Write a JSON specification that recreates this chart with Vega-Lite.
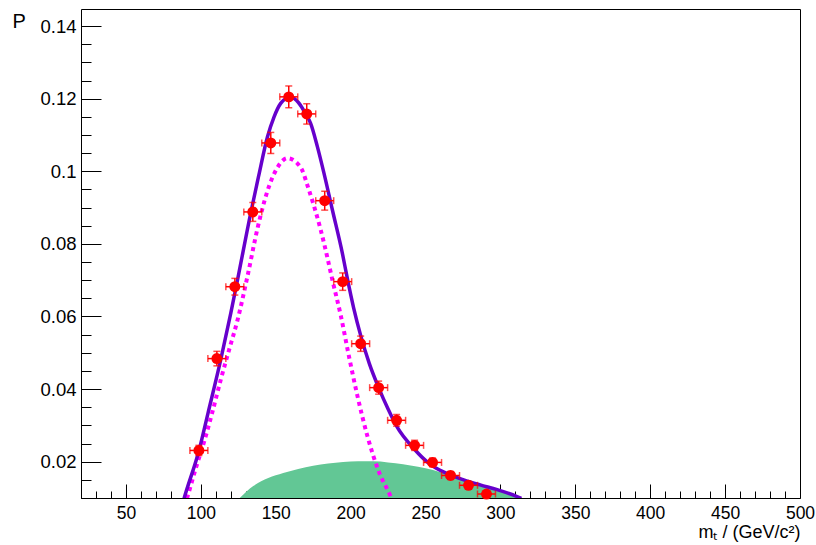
{
  "$schema": "https://vega.github.io/schema/vega-lite/v6.json",
  "width": 719,
  "height": 489,
  "autosize": {"type": "none"},
  "padding": {"left": 81, "top": 9, "right": 16, "bottom": 47},
  "background": "white",
  "config": {
    "view": {"stroke": "black", "strokeWidth": 1},
    "font": "Liberation Sans"
  },
  "datasets": {
    "green": [
      {"x": 126, "y": 0.0100}, {"x": 135, "y": 0.0133}, {"x": 145, "y": 0.0155},
      {"x": 155, "y": 0.0169}, {"x": 165, "y": 0.0180}, {"x": 175, "y": 0.0189},
      {"x": 185, "y": 0.0195}, {"x": 195, "y": 0.0199}, {"x": 205, "y": 0.0201},
      {"x": 215, "y": 0.0201}, {"x": 225, "y": 0.0198}, {"x": 235, "y": 0.0193},
      {"x": 245, "y": 0.0186}, {"x": 255, "y": 0.0177}, {"x": 265, "y": 0.0164},
      {"x": 275, "y": 0.0150}, {"x": 285, "y": 0.0137}, {"x": 295, "y": 0.0125},
      {"x": 305, "y": 0.0112}, {"x": 311, "y": 0.0102}, {"x": 314, "y": 0.0100}
    ],
    "sig": [
      {"x": 89.0, "y": 0.0078}, {"x": 91.1, "y": 0.0104}, {"x": 96.5, "y": 0.0180},
      {"x": 102.2, "y": 0.0255}, {"x": 107.8, "y": 0.0338}, {"x": 113.3, "y": 0.0426},
      {"x": 119.0, "y": 0.0510}, {"x": 124.5, "y": 0.0590}, {"x": 131.1, "y": 0.0710},
      {"x": 137.8, "y": 0.0842}, {"x": 144.5, "y": 0.0946}, {"x": 151.1, "y": 0.1010},
      {"x": 157.8, "y": 0.1036}, {"x": 164.4, "y": 0.1022}, {"x": 167.8, "y": 0.1002},
      {"x": 171.1, "y": 0.0962}, {"x": 175.5, "y": 0.0905}, {"x": 180.0, "y": 0.0839},
      {"x": 184.5, "y": 0.0762}, {"x": 187.8, "y": 0.0701}, {"x": 193.3, "y": 0.0605},
      {"x": 198.9, "y": 0.0490}, {"x": 204.5, "y": 0.0382}, {"x": 211.1, "y": 0.0272},
      {"x": 218.9, "y": 0.0172}, {"x": 226.7, "y": 0.0104}, {"x": 229.0, "y": 0.0080}
    ],
    "tot": [
      {"x": 87.0, "y": 0.0072}, {"x": 88.9, "y": 0.0100}, {"x": 98.9, "y": 0.0233},
      {"x": 104.8, "y": 0.0334}, {"x": 113.3, "y": 0.0481}, {"x": 120.0, "y": 0.0609},
      {"x": 124.5, "y": 0.0701}, {"x": 133.3, "y": 0.0885}, {"x": 138.5, "y": 0.0985},
      {"x": 144.5, "y": 0.1095}, {"x": 148.9, "y": 0.1150}, {"x": 153.3, "y": 0.1187},
      {"x": 157.0, "y": 0.1200}, {"x": 160.5, "y": 0.1203}, {"x": 165.0, "y": 0.1190},
      {"x": 170.0, "y": 0.1158}, {"x": 173.3, "y": 0.1132}, {"x": 177.8, "y": 0.1068},
      {"x": 182.2, "y": 0.0995}, {"x": 187.8, "y": 0.0894}, {"x": 194.5, "y": 0.0774},
      {"x": 197.8, "y": 0.0705}, {"x": 202.0, "y": 0.0624}, {"x": 206.7, "y": 0.0548},
      {"x": 212.5, "y": 0.0470}, {"x": 218.9, "y": 0.0402}, {"x": 225.0, "y": 0.0345},
      {"x": 231.1, "y": 0.0295}, {"x": 242.0, "y": 0.0237}, {"x": 253.3, "y": 0.0192},
      {"x": 264.0, "y": 0.0168}, {"x": 275.5, "y": 0.0150}, {"x": 286.5, "y": 0.0136},
      {"x": 297.8, "y": 0.0123}, {"x": 311.1, "y": 0.0104}, {"x": 314.0, "y": 0.0099}
    ],
    "pts": [
      {"x": 98.7, "y": 0.0231, "ey": 0.0014},
      {"x": 110.7, "y": 0.0484, "ey": 0.0020},
      {"x": 122.7, "y": 0.0682, "ey": 0.0023},
      {"x": 134.7, "y": 0.0888, "ey": 0.0026},
      {"x": 146.7, "y": 0.1078, "ey": 0.0029},
      {"x": 158.7, "y": 0.1205, "ey": 0.0030},
      {"x": 170.7, "y": 0.1158, "ey": 0.0028},
      {"x": 182.7, "y": 0.0919, "ey": 0.0026},
      {"x": 194.7, "y": 0.0696, "ey": 0.0024},
      {"x": 206.7, "y": 0.0525, "ey": 0.0021},
      {"x": 218.7, "y": 0.0404, "ey": 0.0018},
      {"x": 230.7, "y": 0.0314, "ey": 0.0016},
      {"x": 242.7, "y": 0.0245, "ey": 0.0014},
      {"x": 254.7, "y": 0.0198, "ey": 0.0012},
      {"x": 266.7, "y": 0.0162, "ey": 0.0011},
      {"x": 278.7, "y": 0.0135, "ey": 0.0010},
      {"x": 290.7, "y": 0.0111, "ey": 0.0009}
    ]
  },
  "layer": [
    {
      "data": {"name": "green"},
      "mark": {"type": "area", "color": "#62c795", "clip": true, "interpolate": "monotone"},
      "encoding": {
        "x": {
          "field": "x", "type": "quantitative",
          "scale": {"domain": [20, 500], "nice": false, "zero": false},
          "axis": {
            "orient": "bottom",
            "values": [50, 100, 150, 200, 250, 300, 350, 400, 450, 500],
            "ticks": false, "domain": false, "grid": false,
            "labelFont": "Liberation Sans", "labelFontSize": 17.5, "labelColor": "black",
            "labelPadding": 6, "labelFlush": false, "labelOverlap": false,
            "title": "mₜ / (GeV/c²)",
            "titleFont": "Liberation Sans", "titleFontSize": 18, "titleFontWeight": "normal",
            "titleColor": "black", "titleAnchor": "end", "titleAlign": "right",
            "titleBaseline": "alphabetic", "titleX": 719, "titleY": 39
          }
        },
        "y": {
          "field": "y", "type": "quantitative",
          "scale": {"domain": [0.01, 0.1447], "nice": false, "zero": false},
          "axis": {
            "orient": "left",
            "values": [0.02, 0.04, 0.06, 0.08, 0.1, 0.12, 0.14],
            "format": ".2~f",
            "ticks": false, "domain": false, "grid": false,
            "labelFont": "Liberation Sans", "labelFontSize": 18.5, "labelColor": "black",
            "labelPadding": 5, "labelFlush": false, "labelOverlap": false,
            "title": "P", "titleAngle": 0, "titleAlign": "left", "titleBaseline": "alphabetic",
            "titleX": -69, "titleY": 18,
            "titleFont": "Liberation Sans", "titleFontSize": 20, "titleFontWeight": "normal",
            "titleColor": "black"
          }
        },
        "y2": {"datum": 0.01}
      }
    },
    {
      "data": {"name": "sig"},
      "mark": {"type": "line", "color": "#ff00ff", "strokeWidth": 4, "strokeDash": [4, 4], "clip": true, "interpolate": "monotone"},
      "encoding": {
        "x": {
          "field": "x", "type": "quantitative",
          "scale": {"domain": [20, 500], "nice": false, "zero": false},
          "axis": {
            "orient": "top", "offset": -489,
            "values": [20, 30, 40, 50, 60, 70, 80, 90, 100, 110, 120, 130, 140, 150, 160, 170, 180, 190, 200, 210, 220, 230, 240, 250, 260, 270, 280, 290, 300, 310, 320, 330, 340, 350, 360, 370, 380, 390, 400, 410, 420, 430, 440, 450, 460, 470, 480, 490, 500],
            "labels": false, "domain": false, "grid": false, "ticks": true,
            "tickColor": "black", "tickWidth": 1,
            "tickSize": {"condition": {"test": "datum.value % 50 === 0", "value": 14}, "value": 7},
            "title": null
          }
        },
        "y": {
          "field": "y", "type": "quantitative",
          "scale": {"domain": [0.01, 0.1447], "nice": false, "zero": false},
          "axis": {
            "orient": "right", "offset": -719,
            "values": [0.01, 0.015, 0.02, 0.025, 0.03, 0.035, 0.04, 0.045, 0.05, 0.055, 0.06, 0.065, 0.07, 0.075, 0.08, 0.085, 0.09, 0.095, 0.1, 0.105, 0.11, 0.115, 0.12, 0.125, 0.13, 0.135, 0.14],
            "labels": false, "domain": false, "grid": false, "ticks": true,
            "tickColor": "black", "tickWidth": 1,
            "tickSize": {"condition": {"test": "abs(datum.value*50 - round(datum.value*50)) < 0.001", "value": 20}, "value": 10},
            "title": null
          }
        }
      }
    },
    {
      "data": {"name": "tot"},
      "mark": {"type": "line", "color": "#6600cc", "strokeWidth": 3.5, "clip": true, "interpolate": "monotone"},
      "encoding": {
        "x": {"field": "x", "type": "quantitative", "scale": {"domain": [20, 500], "nice": false, "zero": false}, "axis": null},
        "y": {"field": "y", "type": "quantitative", "scale": {"domain": [0.01, 0.1447], "nice": false, "zero": false}, "axis": null}
      }
    },
    {
      "data": {"name": "pts"},
      "transform": [
        {"calculate": "datum.y - datum.ey", "as": "ylo"},
        {"calculate": "datum.y + datum.ey", "as": "yhi"},
        {"calculate": "datum.x - 6", "as": "xlo"},
        {"calculate": "datum.x + 6", "as": "xhi"}
      ],
      "layer": [
        {
          "mark": {"type": "errorbar", "color": "#ff0000", "rule": {"strokeWidth": 1.5}, "ticks": {"size": 7, "thickness": 1.5, "color": "#ff0000"}},
          "encoding": {
            "x": {"field": "x", "type": "quantitative", "scale": {"domain": [20, 500], "nice": false, "zero": false}, "axis": null},
            "y": {"field": "ylo", "type": "quantitative", "scale": {"domain": [0.01, 0.1447], "nice": false, "zero": false}, "axis": null},
            "y2": {"field": "yhi"}
          }
        },
        {
          "mark": {"type": "errorbar", "color": "#ff0000", "rule": {"strokeWidth": 1.5}, "ticks": {"size": 7, "thickness": 1.5, "color": "#ff0000"}},
          "encoding": {
            "y": {"field": "y", "type": "quantitative", "scale": {"domain": [0.01, 0.1447], "nice": false, "zero": false}, "axis": null},
            "x": {"field": "xlo", "type": "quantitative", "scale": {"domain": [20, 500], "nice": false, "zero": false}, "axis": null},
            "x2": {"field": "xhi"}
          }
        },
        {
          "mark": {"type": "point", "shape": "circle", "filled": true, "size": 120, "color": "#ff0000", "opacity": 1},
          "encoding": {
            "x": {"field": "x", "type": "quantitative", "scale": {"domain": [20, 500], "nice": false, "zero": false}, "axis": null},
            "y": {"field": "y", "type": "quantitative", "scale": {"domain": [0.01, 0.1447], "nice": false, "zero": false}, "axis": null}
          }
        }
      ]
    }
  ],
  "resolve": {"axis": {"x": "independent", "y": "independent"}}
}
